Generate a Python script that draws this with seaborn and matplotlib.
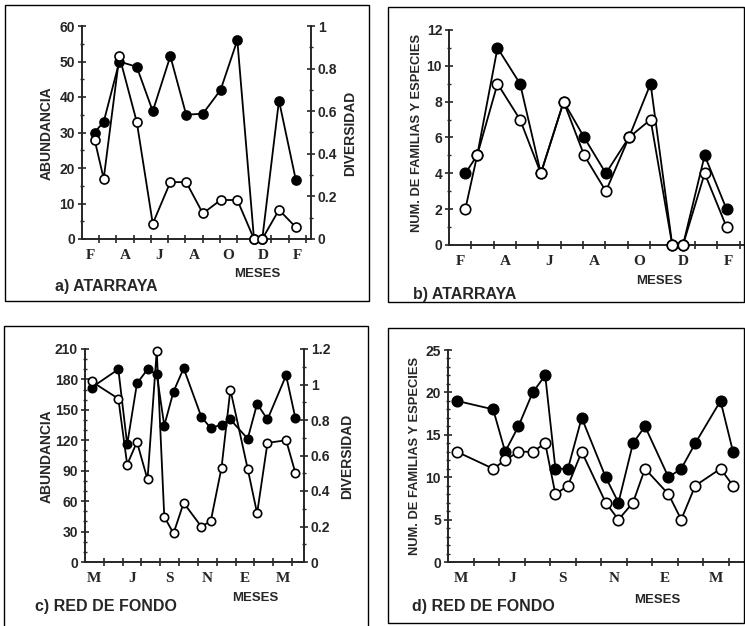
import matplotlib
matplotlib.use("Agg")
import matplotlib.pyplot as plt
from matplotlib.patches import Rectangle
from matplotlib.ticker import MultipleLocator, FuncFormatter
import seaborn as sns

W, H = 745, 626

# --- ATARRAYA (panels a, b) : sampling dates in months counted from February
atar_x = [0.73, 1.26, 2.17, 3.18, 4.11, 5.13, 6.05, 7.02, 8.05, 9.02, 9.99, 10.47, 11.44, 12.42]
atar_abund = [30, 33, 50, 48.5, 36, 51.5, 35, 35.3, 42, 56, 0, 0, 39, 16.6]
atar_div = [0.467, 0.283, 0.858, 0.55, 0.072, 0.267, 0.267, 0.12, 0.183, 0.183, 0, 0, 0.137, 0.055]
atar_species = [4, 5, 11, 9, 4, 8, 6, 4, 6, 9, 0, 0, 5, 2]
atar_families = [2, 5, 9, 7, 4, 8, 5, 3, 6, 7, 0, 0, 4, 1]
atar_months = ["F", "A", "J", "A", "O", "D", "F"]

# --- RED DE FONDO (panels c, d) : sampling dates in months counted from May
fondo_x = [0.35, 1.77, 2.24, 2.76, 3.32, 3.81, 4.21, 4.7, 5.24, 6.18, 6.68, 7.25,
           7.72, 8.64, 9.14, 9.69, 10.68, 11.17]
fondo_abund = [172, 190, 116, 176, 190, 185, 134.5, 168, 191, 143, 132, 135.5,
               140.5, 121.5, 156, 140.5, 184, 142]
fondo_div = [1.017, 0.92, 0.549, 0.676, 0.465, 1.19, 0.255, 0.161, 0.333, 0.199, 0.231, 0.531,
             0.971, 0.525, 0.274, 0.671, 0.686, 0.503]
fondo_species = [19, 18, 13, 16, 20, 22, 11, 11, 17, 10, 7, 14, 16, 10, 11, 14, 19, 13]
fondo_families = [13, 11, 12, 13, 13, 14, 8, 9, 13, 7, 5, 7, 11, 8, 5, 9, 11, 9]
fondo_months = ["M", "J", "S", "N", "E", "M"]

sns.set_style("ticks")
plt.rcParams["font.family"] = ["Liberation Sans", "DejaVu Sans"]
plt.rcParams["axes.linewidth"] = 1.4

fig = plt.figure(figsize=(W / 100, H / 100), dpi=100)


def px_axes(left, top, right, bottom):
    return fig.add_axes([left / W, 1 - bottom / H, (right - left) / W, (bottom - top) / H])


def ftext(x, y, s, **kw):
    fig.text(x / W, 1 - y / H, s, **kw)


def frame(x0, y0, x1, y1):
    fig.add_artist(Rectangle((x0 / W, 1 - y1 / H), (x1 - x0) / W, (y1 - y0) / H,
                             transform=fig.transFigure, fill=False, lw=1.0, ec="black"))


def draw(ax, x, y, filled, ms=6.5):
    sns.lineplot(x=x, y=y, ax=ax, color="black", linewidth=1.3, marker="o",
                 markersize=ms, markerfacecolor="black" if filled else "white",
                 markeredgecolor="black", markeredgewidth=1.2, clip_on=False, zorder=5)


def style(ax, xmax, ymax, ymaj, ymin, months, side="left"):
    ax.set_xlim(0, xmax)
    ax.set_ylim(0, ymax)
    ax.set_xticks(range(1, int(xmax) + 1))
    ax.set_xticks([0.5 + 2 * i for i in range(len(months))], labels=months, minor=True)
    ax.tick_params(axis="x", which="major", direction="inout", length=6, width=1.2,
                   labelbottom=False)
    ax.tick_params(axis="x", which="minor", length=0, pad=7)
    for lab in ax.get_xticklabels(minor=True):
        lab.set_family(["Liberation Serif", "DejaVu Serif"])
        lab.set_fontweight("bold")
        lab.set_fontsize(11)
    ax.yaxis.set_major_locator(MultipleLocator(ymaj))
    ax.yaxis.set_minor_locator(MultipleLocator(ymin))
    ax.yaxis.set_major_formatter(FuncFormatter(lambda v, p: f"{v:g}"))
    ax.tick_params(axis="y", which="major", direction="inout", length=6, width=1.2,
                   labelsize=10, pad=2)
    ax.tick_params(axis="y", which="minor", direction="inout", length=3, width=1.0)
    for lab in ax.get_yticklabels():
        lab.set_fontweight("bold")
    ax.spines["top"].set_visible(False)
    if side == "left":
        ax.spines["right"].set_visible(False)
    ax.set_xlabel("")
    ax.set_ylabel("")
    ax.patch.set_alpha(0)


def style_right(ax2, ymax, ymaj, ymin):
    ax2.set_ylim(0, ymax)
    ax2.yaxis.set_major_locator(MultipleLocator(ymaj))
    ax2.yaxis.set_minor_locator(MultipleLocator(ymin))
    ax2.yaxis.set_major_formatter(FuncFormatter(lambda v, p: f"{v:g}"))
    ax2.tick_params(axis="y", which="major", direction="inout", length=6, width=1.2,
                    labelsize=10, pad=2)
    ax2.tick_params(axis="y", which="minor", direction="inout", length=3, width=1.0)
    for lab in ax2.get_yticklabels():
        lab.set_fontweight("bold")
    for s in ["top", "left", "bottom"]:
        ax2.spines[s].set_visible(False)
    ax2.spines["right"].set_visible(True)
    ax2.set_ylabel("")


frame(5, 5, 369, 301)
frame(388, 7, 744, 302)
frame(4, 326, 368, 632)
frame(388, 328, 744, 623)

# a) abundance / diversity, atarraya
ax_a = px_axes(82, 26, 311, 239)
ax_a2 = ax_a.twinx()
draw(ax_a, atar_x, atar_abund, True)
draw(ax_a2, atar_x, atar_div, False)
style(ax_a, 13.3, 60, 10, 5, atar_months)
style_right(ax_a2, 1, 0.2, 0.1)

# b) families / species, atarraya
ax_b = px_axes(449, 30, 744, 245)
draw(ax_b, atar_x, atar_species, True, ms=7.5)
draw(ax_b, atar_x, atar_families, False, ms=7.5)
style(ax_b, 13.2, 12, 2, 1, atar_months)

# c) abundance / diversity, red de fondo
ax_c = px_axes(85, 349, 304, 562)
ax_c2 = ax_c.twinx()
draw(ax_c, fondo_x, fondo_abund, True, ms=6)
draw(ax_c2, fondo_x, fondo_div, False, ms=6)
style(ax_c, 11.63, 210, 30, 10, fondo_months)
style_right(ax_c2, 1.2, 0.2, 0.1)

# d) families / species, red de fondo
ax_d = px_axes(448, 350, 744, 562)
draw(ax_d, fondo_x, fondo_species, True, ms=7.5)
draw(ax_d, fondo_x, fondo_families, False, ms=7.5)
style(ax_d, 11.6, 25, 5, 1, fondo_months)

lab = dict(fontweight="bold", rotation=90, ha="center", va="center")
ftext(47, 133, "ABUNDANCIA", fontsize=10, **lab)
ftext(350, 133, "DIVERSIDAD", fontsize=10, **lab)
ftext(417, 133, "NUM. DE FAMILIAS Y ESPECIES", fontsize=9.3, **lab)
ftext(47, 456, "ABUNDANCIA", fontsize=10, **lab)
ftext(347, 456, "DIVERSIDAD", fontsize=10, **lab)
ftext(415, 456, "NUM. DE FAMILIAS Y ESPECIES", fontsize=9.3, **lab)

mes = dict(fontweight="bold", fontsize=9.5, ha="center", va="center")
ftext(257, 274, "MESES", **mes)
ftext(659, 281, "MESES", **mes)
ftext(255, 598, "MESES", **mes)
ftext(657, 600, "MESES", **mes)

ttl = dict(fontsize=11.5, fontweight="bold", ha="left", va="center")
ftext(55, 287, "a) ATARRAYA", **ttl)
ftext(413, 295, "b) ATARRAYA", **ttl)
ftext(35, 606, "c) RED DE FONDO", **ttl)
ftext(412, 606, "d) RED DE FONDO", **ttl)

fig.savefig("out.png", dpi=100)
